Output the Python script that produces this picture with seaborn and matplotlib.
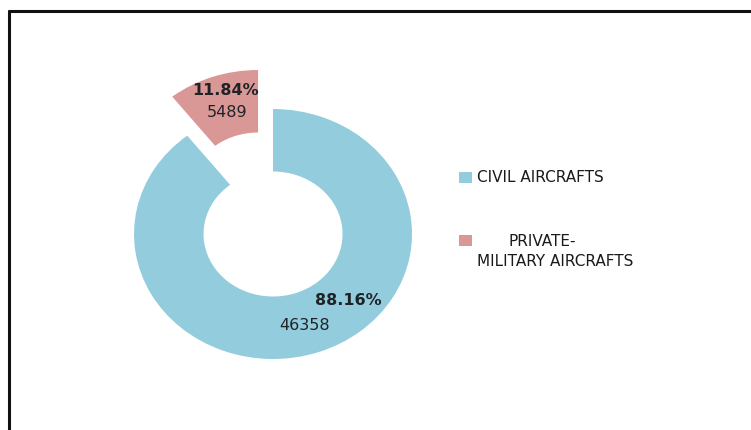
import matplotlib
matplotlib.use("Agg")
import matplotlib.pyplot as plt
from matplotlib.lines import Line2D
from matplotlib.patches import Rectangle
import seaborn as sns

# Aircraft counts by category
categories = ["CIVIL AIRCRAFTS", "PRIVATE-\nMILITARY AIRCRAFTS"]
counts = [46358, 5489]
pct_labels = ["88.16%", "11.84%"]
colors = ["#93CDDD", "#D99795"]

sns.set_theme(style="white")
plt.rcParams["font.family"] = ["DejaVu Sans"]

fig = plt.figure(figsize=(7.51, 4.31), dpi=100)
fig.patch.set_facecolor("white")

# Axes is stretched slightly wider than tall, giving an oval ring
ax = fig.add_axes([0.0674, 0.0197, 0.5923, 0.8701])
wedges, _ = ax.pie(
    counts,
    colors=colors,
    startangle=90,
    counterclock=False,
    explode=[0, 0.33],
    radius=1.0,
    wedgeprops=dict(width=0.5, linewidth=0),
)
ax.set_aspect("auto")
ax.set_xlim(-1.6, 1.6)
ax.set_ylim(-1.5, 1.5)
ax.axis("off")

# Value labels: bold share on top, raw count underneath
label_pos = {
    0: [(0.540, -0.52), (0.230, -0.72)],
    1: [(-0.345, 1.152), (-0.331, 0.976)],
}
text_color = "#1f2328"
for i, (pct, n) in enumerate(zip(pct_labels, counts)):
    (px, py), (cx, cy) = label_pos[i]
    ax.text(px, py, pct, ha="center", va="center", fontsize=11.5,
            fontweight="bold", color=text_color)
    ax.text(cx, cy, f"{n}", ha="center", va="center", fontsize=11.5,
            color=text_color)

# Legend drawn as colour squares with wrapped labels
W, H = 751, 431
legend_rows = [178, 241]
legend_fs = 11
for lab, col, y in zip(categories, colors, legend_rows):
    fig.patches.append(Rectangle((459 / W, 1 - (y + 5.5) / H), 13 / W, 11 / H,
                                 transform=fig.transFigure, facecolor=col,
                                 edgecolor="none"))
    lines = lab.split("\n")
    if len(lines) == 1:
        fig.text(477 / W, 1 - y / H, lines[0], ha="left", va="center",
                 fontsize=legend_fs, color="#1a1a1a")
    else:
        fig.text(508 / W, 1 - y / H, lines[0], ha="left", va="center",
                 fontsize=legend_fs, color="#1a1a1a")
        fig.text(477 / W, 1 - (y + 21) / H, lines[1], ha="left", va="center",
                 fontsize=legend_fs, color="#1a1a1a")

# Outer frame (top and left edges visible)
fig.lines.append(Line2D([9 / W, 1.0], [1 - 11.5 / H, 1 - 11.5 / H],
                        transform=fig.transFigure, color="#111111", lw=2.2))
fig.lines.append(Line2D([9 / W, 9 / W], [0.0, 1 - 11.5 / H],
                        transform=fig.transFigure, color="#111111", lw=2.2))

fig.savefig("out.png", dpi=100, facecolor="white")
